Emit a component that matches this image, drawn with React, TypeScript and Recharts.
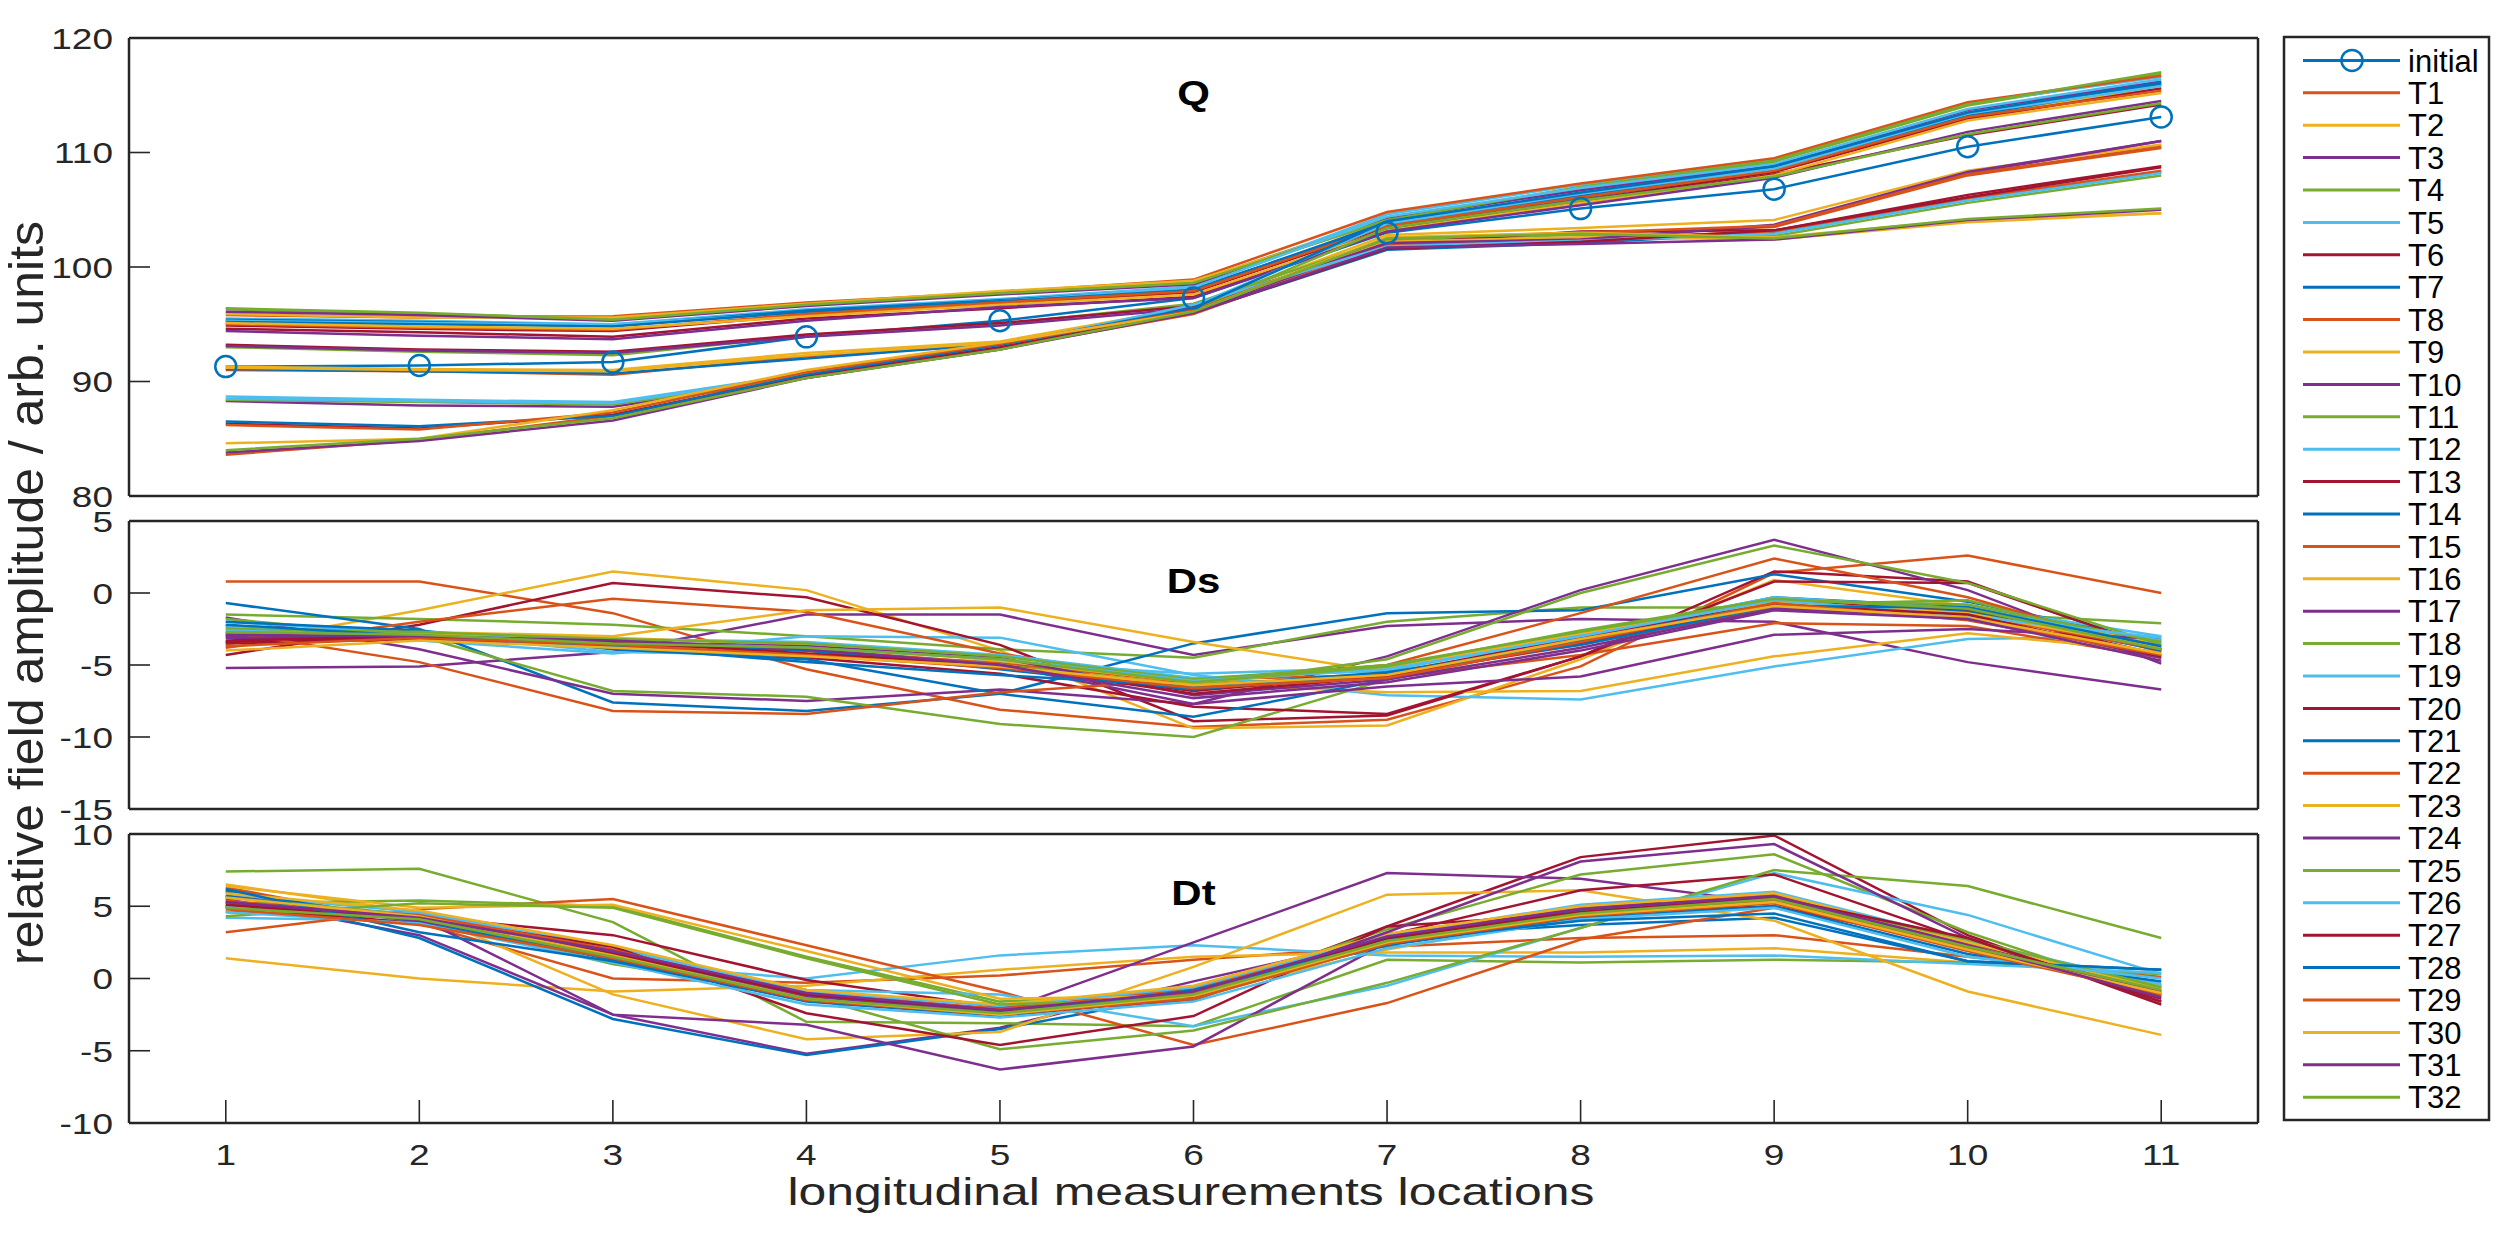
import React from "react";
import { Line, LineChart, XAxis, YAxis } from "recharts";

const FONT = '"Liberation Sans", Arial, Helvetica, sans-serif';
const INK = "#262626";

const LOCATIONS = [1, 2, 3, 4, 5, 6, 7, 8, 9, 10, 11];

const SERIES_NAMES = [
  "initial", "T1", "T2", "T3", "T4", "T5", "T6", "T7", "T8", "T9", "T10",
  "T11", "T12", "T13", "T14", "T15", "T16", "T17", "T18", "T19", "T20",
  "T21", "T22", "T23", "T24", "T25", "T26", "T27", "T28", "T29", "T30",
  "T31", "T32",
];

// matlab default colour order, cycles every 7 series
const COLOR_ORDER = ["#0072BD", "#D95319", "#EDB120", "#7E2F8E", "#77AC30", "#4DBEEE", "#A2142F"];

const Q_TICKS = [80, 90, 100, 110, 120];
const DS_TICKS = [-15, -10, -5, 0, 5];
const DT_TICKS = [-10, -5, 0, 5, 10];

// Q panel: initial, T1..T32
const Q_VALUES = [
  [91.3, 91.4, 91.7, 93.9, 95.3, 97.3, 103.0, 105.1, 106.8, 110.5, 113.1],
  [91.0, 90.9, 90.6, 92.2, 93.2, 96.2, 102.3, 102.9, 103.5, 108.0, 110.4],
  [91.3, 91.1, 91.0, 92.5, 93.5, 96.5, 102.8, 103.4, 104.1, 108.4, 110.7],
  [88.3, 87.9, 87.8, 90.3, 92.9, 96.1, 102.1, 102.4, 103.6, 108.2, 111.0],
  [96.3, 95.9, 95.5, 96.7, 97.7, 98.7, 104.3, 106.8, 109.2, 114.1, 116.9],
  [95.5, 95.3, 95.0, 96.3, 97.2, 98.3, 104.6, 107.2, 109.4, 114.3, 116.6],
  [94.6, 94.3, 93.9, 95.5, 96.4, 97.4, 103.3, 105.6, 108.1, 111.5, 114.2],
  [95.4, 95.2, 94.9, 96.2, 97.1, 98.1, 103.7, 106.0, 108.5, 113.0, 115.9],
  [95.8, 95.6, 95.7, 96.9, 97.8, 98.9, 104.8, 107.3, 109.5, 114.4, 116.7],
  [95.9, 95.6, 95.6, 96.8, 97.9, 98.8, 104.0, 106.3, 108.6, 113.3, 115.6],
  [96.1, 95.8, 95.3, 96.6, 97.6, 98.5, 104.2, 106.7, 108.9, 113.7, 116.2],
  [96.4, 96.0, 95.4, 96.7, 97.7, 98.6, 104.1, 107.0, 109.3, 114.2, 117.0],
  [95.3, 95.1, 95.0, 96.0, 97.0, 98.2, 104.4, 106.9, 109.0, 113.8, 116.4],
  [94.9, 94.6, 94.4, 95.8, 96.8, 97.8, 103.5, 105.8, 108.3, 112.9, 115.6],
  [95.2, 95.0, 94.8, 96.1, 97.0, 98.0, 103.9, 106.2, 108.7, 113.2, 116.0],
  [95.0, 94.7, 94.5, 95.9, 96.9, 97.9, 103.6, 106.1, 108.4, 113.1, 115.4],
  [95.1, 94.8, 94.6, 95.7, 96.7, 97.6, 103.2, 105.6, 108.0, 112.8, 115.2],
  [94.4, 94.0, 93.7, 95.3, 96.5, 97.3, 103.1, 105.4, 107.8, 111.8, 114.5],
  [93.0, 92.6, 92.3, 94.0, 95.0, 96.8, 102.4, 102.8, 102.7, 105.6, 108.0],
  [88.7, 88.4, 88.2, 90.7, 93.0, 96.6, 103.8, 106.4, 108.6, 113.4, 115.8],
  [93.2, 92.8, 92.6, 94.1, 95.1, 96.6, 102.0, 103.1, 103.2, 106.3, 108.8],
  [91.1, 90.9, 90.7, 92.0, 93.3, 96.0, 101.5, 102.1, 103.0, 105.9, 108.3],
  [83.6, 84.9, 87.0, 90.4, 92.9, 95.9, 101.9, 102.5, 103.1, 106.0, 108.4],
  [91.2, 91.0, 90.9, 92.3, 93.4, 96.3, 102.2, 102.6, 102.4, 103.9, 104.7],
  [93.1, 92.7, 92.5, 93.9, 94.9, 96.4, 102.1, 102.4, 103.7, 108.3, 111.0],
  [88.4, 88.2, 88.0, 90.4, 92.8, 96.3, 103.4, 105.8, 107.9, 111.6, 114.3],
  [88.5, 88.3, 88.1, 90.6, 93.1, 96.7, 101.8, 102.3, 102.9, 105.8, 108.2],
  [86.3, 85.9, 87.1, 90.5, 93.0, 96.0, 101.6, 102.2, 103.2, 106.1, 108.7],
  [86.5, 86.1, 87.0, 90.6, 93.2, 96.4, 104.0, 106.5, 108.8, 113.5, 116.1],
  [86.2, 85.8, 87.3, 90.8, 93.3, 96.2, 102.5, 103.0, 103.6, 108.1, 110.5],
  [84.6, 85.0, 87.5, 91.0, 93.4, 96.1, 102.6, 103.0, 102.6, 104.1, 104.7],
  [83.8, 84.8, 86.6, 90.3, 92.8, 96.0, 101.7, 102.0, 102.4, 104.1, 105.0],
  [84.0, 85.0, 86.8, 90.3, 92.8, 96.1, 102.5, 102.9, 102.5, 104.2, 105.1],
];

// Ds panel: T1..T32
const DS_VALUES = [
  [0.8, 0.8, -1.4, -5.3, -8.1, -9.3, -8.8, -5.1, 1.4, 2.6, 0.0],
  [-3.6, -1.2, 1.5, 0.2, -4.0, -9.4, -9.2, -4.6, 0.9, -0.9, -3.8],
  [-5.2, -5.1, -4.1, -1.5, -1.5, -4.3, -2.3, -1.8, -2.0, -4.8, -6.7],
  [-1.5, -1.8, -2.2, -3.0, -3.9, -4.5, -2.0, -1.0, -1.0, -1.4, -2.1],
  [-2.3, -3.3, -4.2, -3.0, -3.1, -5.7, -7.1, -7.4, -5.1, -3.2, -3.0],
  [-4.3, -2.2, 0.7, -0.3, -3.6, -8.9, -8.5, -4.4, 1.5, 0.8, -4.0],
  [-0.7, -2.5, -7.6, -8.2, -7.0, -3.5, -1.4, -1.2, 1.3, -0.6, -3.4],
  [-3.8, -2.0, -0.4, -1.3, -4.2, -6.3, -5.9, -4.3, -2.1, -2.3, -4.5],
  [-3.1, -2.9, -3.3, -4.2, -5.2, -6.3, -6.9, -6.8, -4.4, -2.8, -4.1],
  [-1.7, -3.9, -7.0, -7.5, -6.7, -7.7, -4.4, 0.2, 3.7, 0.2, -4.9],
  [-1.8, -3.0, -6.8, -7.2, -9.1, -10.0, -6.0, -3.3, -0.8, -0.5, -3.8],
  [-2.0, -2.8, -4.1, -4.3, -4.8, -5.6, -5.2, -3.2, -0.4, -0.9, -3.0],
  [-3.5, -3.2, -3.6, -4.5, -5.6, -7.9, -8.4, -4.4, 0.8, 0.7, -3.9],
  [-2.0, -2.6, -3.9, -4.6, -7.0, -8.6, -6.0, -3.0, -0.3, -1.0, -3.6],
  [-3.4, -3.0, -3.4, -3.9, -4.9, -6.2, -5.0, -1.4, 2.4, -0.3, -4.1],
  [-3.0, -2.7, -3.0, -1.2, -1.0, -3.4, -5.5, -3.4, -0.7, -1.2, -3.5],
  [-3.0, -3.2, -3.6, -4.4, -5.0, -7.7, -6.5, -5.8, -2.9, -2.5, -3.2],
  [-2.4, -2.8, -3.5, -4.0, -5.0, -6.4, -4.6, 0.0, 3.3, 0.7, -3.6],
  [-2.3, -2.9, -3.2, -3.4, -4.3, -5.9, -5.4, -2.9, -0.3, -1.1, -3.3],
  [-3.4, -3.1, -3.5, -4.0, -5.1, -6.8, -5.6, -3.1, -0.6, -1.2, -4.3],
  [-2.8, -3.1, -3.3, -4.0, -5.3, -6.7, -5.6, -3.3, -0.7, -1.3, -4.0],
  [-2.7, -4.8, -8.2, -8.4, -6.9, -6.0, -5.7, -3.6, -1.0, -1.5, -3.9],
  [-2.9, -2.8, -3.1, -3.6, -4.7, -6.2, -5.2, -2.8, -0.6, -1.4, -3.8],
  [-3.1, -3.2, -3.4, -3.7, -4.5, -7.1, -6.0, -3.8, -1.1, -1.6, -4.5],
  [-2.5, -2.7, -3.2, -3.5, -4.4, -6.0, -5.0, -2.7, -0.5, -0.8, -3.4],
  [-2.6, -3.0, -3.4, -3.8, -4.6, -6.1, -5.3, -3.0, -0.5, -1.6, -3.1],
  [-3.3, -3.0, -3.4, -4.2, -5.0, -7.0, -5.8, -3.5, -0.8, -1.5, -4.4],
  [-2.2, -3.0, -3.7, -4.8, -5.7, -6.5, -5.5, -3.6, -0.9, -1.0, -3.7],
  [-3.7, -3.1, -3.6, -4.3, -5.2, -6.6, -5.9, -3.4, -0.7, -1.9, -4.3],
  [-4.0, -3.3, -3.8, -4.4, -5.1, -6.4, -5.7, -3.2, -0.9, -1.7, -4.2],
  [-2.9, -3.0, -3.3, -3.9, -5.0, -7.3, -6.2, -4.0, -1.2, -1.8, -4.7],
  [-2.7, -2.9, -3.5, -3.8, -4.6, -6.2, -5.1, -2.6, -0.4, -1.1, -3.9],
];

// Dt panel: T1..T32
const DT_VALUES = [
  [6.3, 3.8, 0.0, -0.3, 0.2, 1.3, 2.2, 2.8, 3.0, 1.5, 0.1],
  [1.4, 0.0, -0.9, -0.5, 0.6, 1.5, 1.8, 1.8, 2.1, 1.1, 0.6],
  [5.5, 3.0, -2.5, -5.2, -3.4, -0.2, 2.8, 4.7, 5.3, 2.0, -0.5],
  [7.4, 7.6, 3.9, -3.0, -3.1, -3.3, 1.3, 1.1, 1.3, 1.1, 0.3],
  [4.2, 4.0, 1.0, 0.0, 1.6, 2.3, 1.6, 1.5, 1.6, 1.0, 0.4],
  [4.9, 4.3, 3.0, -0.1, -2.0, -1.4, 3.6, 8.4, 9.9, 3.0, -1.8],
  [6.0, 2.8, -2.8, -5.3, -3.5, -1.0, 2.9, 3.7, 4.2, 1.2, 0.6],
  [3.2, 4.8, 5.5, 2.3, -0.9, -4.6, -1.7, 2.7, 4.9, 2.4, -0.8],
  [6.5, 4.6, -1.1, -4.2, -3.7, 0.8, 5.8, 6.1, 4.0, -0.9, -3.9],
  [5.0, 4.5, 2.0, -0.8, -2.3, 2.5, 7.3, 6.9, 5.2, 2.3, -0.9],
  [5.2, 5.4, 5.0, 1.5, -1.6, -1.0, 3.4, 7.2, 8.6, 3.2, -1.2],
  [5.8, 4.6, 2.0, -0.8, -1.1, -3.3, -0.5, 3.5, 7.3, 4.4, 0.3],
  [5.0, 3.8, 1.6, -1.4, -2.6, -1.3, 3.0, 6.1, 7.2, 2.6, -1.4],
  [6.1, 3.9, 1.5, -1.2, -2.3, -0.9, 2.7, 4.7, 5.5, 2.0, -0.6],
  [5.4, 4.1, 1.9, -1.0, -2.1, -0.7, 2.9, 4.9, 5.8, 2.4, -0.9],
  [6.4, 4.9, 5.1, 1.9, -1.4, -1.2, 2.0, 4.4, 5.4, 2.2, -0.5],
  [5.7, 4.2, -2.5, -3.2, -6.3, -4.7, 2.5, 5.0, 5.5, 2.5, -1.0],
  [5.6, 4.4, 1.0, -1.2, -4.9, -3.6, -0.3, 3.5, 7.5, 6.4, 2.8],
  [5.0, 4.5, 2.2, -0.9, -1.9, -0.6, 3.0, 5.1, 6.0, 2.6, -0.4],
  [4.6, 4.2, 2.2, -2.4, -4.6, -2.6, 3.6, 4.5, 5.0, 2.2, -1.1],
  [5.7, 4.0, 1.3, -1.6, -2.6, -1.1, 2.3, 4.2, 5.0, 1.7, -0.2],
  [5.2, 4.4, 2.0, -1.3, -2.4, -1.0, 2.6, 4.5, 5.4, 2.1, -1.2],
  [5.9, 4.7, 2.3, -0.8, -1.8, -0.5, 3.1, 5.0, 5.9, 2.5, -0.7],
  [5.3, 4.0, 1.8, -1.2, -2.4, -1.5, 3.2, 8.1, 9.3, 2.8, -1.6],
  [4.3, 5.2, 4.9, 1.4, -1.8, -1.4, 2.4, 4.6, 5.6, 2.7, -0.6],
  [4.6, 3.8, 1.1, -1.8, -2.7, -1.6, 2.1, 4.1, 4.9, 1.5, 0.0],
  [5.1, 4.1, 1.7, -1.1, -2.2, -1.2, 2.8, 4.6, 5.6, 2.8, -1.6],
  [6.2, 3.2, 1.2, -1.5, -2.5, -0.8, 2.5, 4.0, 4.5, 1.2, 0.6],
  [4.8, 3.7, 1.4, -1.5, -2.5, -1.4, 2.4, 4.3, 5.2, 1.9, -1.1],
  [5.6, 4.3, 1.6, -1.4, -2.5, -1.2, 2.5, 4.4, 5.3, 2.0, -1.0],
  [5.3, 4.2, 1.9, -1.0, -2.2, -0.9, 2.9, 4.8, 5.7, 2.3, -1.3],
  [4.9, 4.1, 1.5, -1.4, -2.4, -1.1, 2.6, 4.5, 5.5, 2.2, -0.8],
];

const colorOf = (seriesIndex: number) => COLOR_ORDER[seriesIndex % COLOR_ORDER.length];

const AXIS_LINE = { stroke: INK, strokeWidth: 2.5 };
const TICK_LINE = { stroke: INK, strokeWidth: 1.6 };

// matlab export looks squashed vertically, so text is scaled to match
function XTick(props: any) {
  const { x, y, payload } = props;
  return (
    <g transform={`translate(${x},${y}) scale(1,0.82)`}>
      <text x={0} y={0} dy="0.71em" textAnchor="middle" fontSize={37} fontFamily={FONT} fill={INK}>
        {payload.value}
      </text>
    </g>
  );
}

function YTick(props: any) {
  const { x, y, payload } = props;
  return (
    <g transform={`translate(${x},${y}) scale(1,0.82)`}>
      <text x={0} y={0} dy="0.36em" textAnchor="end" fontSize={37} fontFamily={FONT} fill={INK}>
        {payload.value}
      </text>
    </g>
  );
}

type PanelProps = {
  values: number[][];
  firstSeries: number; // index into SERIES_NAMES of values[0]
  plotTop: number;
  plotBottom: number;
  domain: [number, number];
  yTicks: number[];
  showXLabels?: boolean;
};

function Panel({ values, firstSeries, plotTop, plotBottom, domain, yTicks, showXLabels }: PanelProps) {
  const names = SERIES_NAMES.slice(firstSeries, firstSeries + values.length);
  const rows = LOCATIONS.map((loc, i) => {
    const row: Record<string, number> = { loc };
    names.forEach((n, k) => {
      row[n] = values[k][i];
    });
    return row;
  });

  const top = plotTop - 40;
  const xAxisHeight = showXLabels ? 60 : 20;
  const bottomMargin = showXLabels ? 0 : 20;
  const height = plotBottom - top + xAxisHeight + bottomMargin;

  return (
    <div style={{ position: "absolute", left: 0, top, width: 2510, height }}>
      <LineChart
        width={2510}
        height={height}
        data={rows}
        margin={{ top: 20, right: 232, bottom: bottomMargin, left: 29 }}
      >
        <XAxis
          dataKey="loc"
          type="number"
          domain={[0.5, 11.5]}
          ticks={LOCATIONS}
          interval={0}
          allowDataOverflow
          height={xAxisHeight}
          tickSize={-23}
          tickMargin={43}
          axisLine={AXIS_LINE}
          tickLine={TICK_LINE}
          tick={showXLabels ? XTick : false}
        />
        <XAxis
          xAxisId="top"
          orientation="top"
          dataKey="loc"
          type="number"
          domain={[0.5, 11.5]}
          ticks={LOCATIONS}
          interval={0}
          allowDataOverflow
          height={20}
          tickSize={-23}
          axisLine={AXIS_LINE}
          tickLine={TICK_LINE}
          tick={false}
        />
        <YAxis
          type="number"
          domain={domain}
          ticks={yTicks}
          interval={0}
          allowDataOverflow
          width={100}
          tickSize={-21}
          tickMargin={37}
          axisLine={AXIS_LINE}
          tickLine={TICK_LINE}
          tick={YTick}
        />
        <YAxis
          yAxisId="right"
          orientation="right"
          type="number"
          domain={domain}
          ticks={yTicks}
          interval={0}
          allowDataOverflow
          width={20}
          tickSize={-21}
          axisLine={AXIS_LINE}
          tickLine={TICK_LINE}
          tick={false}
        />
        {names.map((n, k) => {
          const color = colorOf(firstSeries + k);
          const withMarker = n === "initial";
          return (
            <Line
              key={n}
              type="linear"
              dataKey={n}
              stroke={color}
              strokeWidth={2.5}
              dot={withMarker ? { r: 10.5, fill: "none", stroke: color, strokeWidth: 2.5 } : false}
              activeDot={false}
              isAnimationActive={false}
            />
          );
        })}
      </LineChart>
    </div>
  );
}

function Overlay() {
  const legendTop = 37;
  const rowGap = 32.4;
  const firstRow = 60.4;
  return (
    <svg
      width={2510}
      height={1240}
      style={{ position: "absolute", left: 0, top: 0, pointerEvents: "none" }}
      fontFamily={FONT}
    >
      {/* panel titles */}
      {[
        { label: "Q", y: 105 },
        { label: "Ds", y: 593 },
        { label: "Dt", y: 905 },
      ].map((t) => (
        <g key={t.label} transform={`translate(1193.5,${t.y}) scale(1,0.82)`}>
          <text x={0} y={0} textAnchor="middle" fontSize={42} fontWeight="bold" fill="#000">
            {t.label}
          </text>
        </g>
      ))}

      {/* axis labels */}
      <text
        transform="translate(43,593) rotate(-90)"
        textAnchor="middle"
        fontSize={49}
        fill={INK}
        textLength={744}
        lengthAdjust="spacingAndGlyphs"
      >
        relative field amplitude / arb. units
      </text>
      <g transform="translate(1191,1205) scale(1,0.77)">
        <text x={0} y={0} textAnchor="middle" fontSize={50} fill={INK} textLength={807} lengthAdjust="spacingAndGlyphs">
          longitudinal measurements locations
        </text>
      </g>

      {/* legend */}
      <rect x={2284} y={legendTop} width={205} height={1083} fill="#fff" stroke={INK} strokeWidth={2.5} />
      {SERIES_NAMES.map((name, i) => {
        const y = firstRow + i * rowGap;
        const color = colorOf(i);
        return (
          <g key={name}>
            <line x1={2303} x2={2400} y1={y} y2={y} stroke={color} strokeWidth={3} />
            {name === "initial" && <circle cx={2352} cy={y} r={10.5} fill="none" stroke={color} strokeWidth={2.5} />}
            <text x={2408} y={y} dy="0.36em" fontSize={31} fill="#000">
              {name}
            </text>
          </g>
        );
      })}
    </svg>
  );
}

export default function App() {
  return (
    <div style={{ position: "absolute", left: 0, top: 0, width: 2510, height: 1240, background: "#fff" }}>
      <Panel values={Q_VALUES} firstSeries={0} plotTop={38} plotBottom={496} domain={[80, 120]} yTicks={Q_TICKS} />
      <Panel values={DS_VALUES} firstSeries={1} plotTop={521} plotBottom={809} domain={[-15, 5]} yTicks={DS_TICKS} />
      <Panel
        values={DT_VALUES}
        firstSeries={1}
        plotTop={834}
        plotBottom={1123}
        domain={[-10, 10]}
        yTicks={DT_TICKS}
        showXLabels
      />
      <Overlay />
    </div>
  );
}
